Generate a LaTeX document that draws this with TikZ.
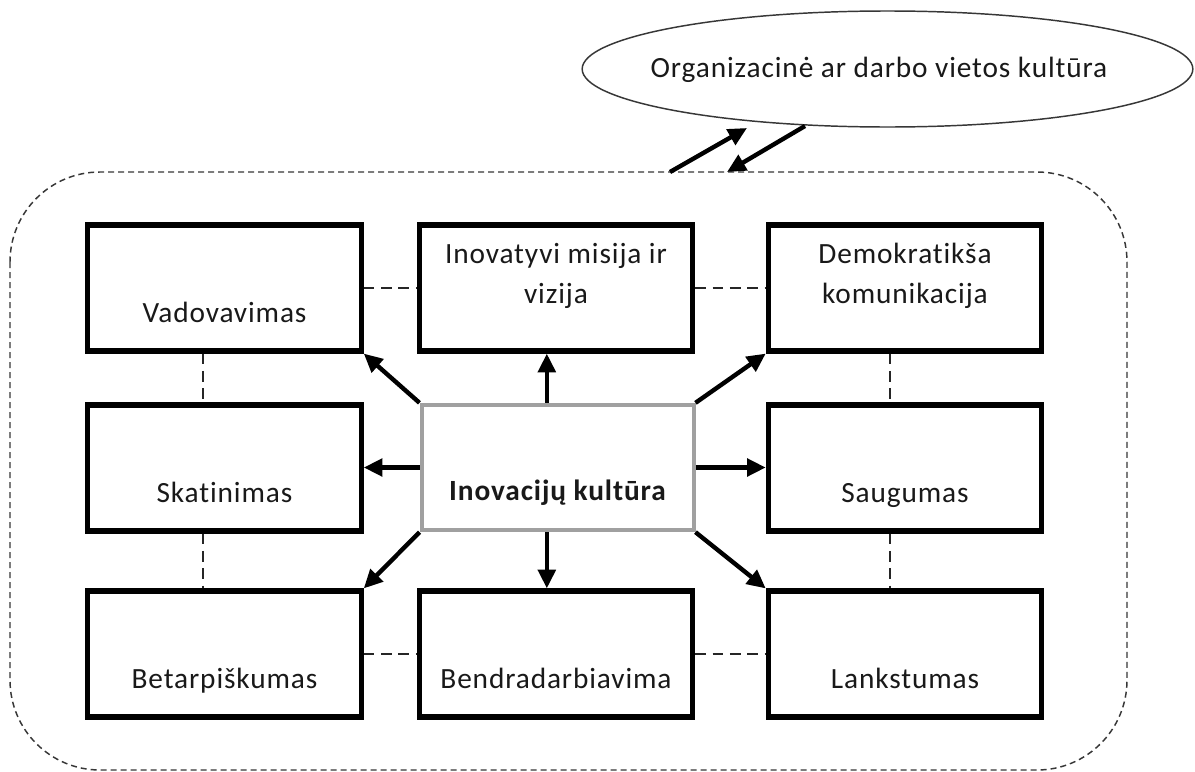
\documentclass[tikz,border=0pt]{standalone}
\usepackage{fontspec}
\setmainfont{Carlito}[Ligatures={NoCommon},LetterSpace=3]
\usetikzlibrary{arrows.meta,shapes.geometric}
\definecolor{cgray}{RGB}{160,160,160}
\definecolor{dgray}{RGB}{55,55,55}
\definecolor{txt}{RGB}{25,25,25}
\begin{document}
\begin{tikzpicture}[x=0.75pt,y=-0.75pt,
  box/.style={draw=black,line width=3.9pt,minimum width=205pt,minimum height=94.5pt,inner sep=0pt},
  cbox/.style={draw=cgray,line width=3pt,minimum width=204pt,minimum height=94pt,inner sep=0pt},
  lbl/.style={anchor=base,inner sep=0pt,text=txt,font=\fontsize{22}{30}\selectfont},
  blbl/.style={lbl,font=\fontsize{22}{30}\selectfont\bfseries},
  arr/.style={line width=3.3pt,-{Triangle[length=14pt,width=13pt]}},
  conn/.style={draw=black!85,line width=1.3pt,dash pattern=on 8pt off 5pt},
  outer/.style={draw=dgray,line width=1.1pt,dash pattern=on 4.5pt off 3pt},
  ell/.style={draw=dgray,line width=1.1pt,ellipse,minimum width=458pt,minimum height=87pt,inner sep=0pt}]
\useasboundingbox[fill=white] (0,0) rectangle (1195,771);

% outer dashed frame
\draw[outer,rounded corners=67.5pt] (10,172) rectangle (1127,770);

% ellipse
\node[ell] (org) at (887.5,69) {};
\node[lbl] (orgt) at (879,77) {Organizacinė ar darbo vietos kultūra};

% boxes
\node[box] (vad) at (224.5,288) {};
\node[box] (mis) at (556,288) {};
\node[box] (dem) at (905,288) {};
\node[box] (ska) at (224.5,468) {};
\node[cbox] (c) at (557.5,467.5) {};
\node[box] (sau) at (905,468) {};
\node[box] (bet) at (224.5,654) {};
\node[box] (ben) at (556,654) {};
\node[box] (lan) at (905,654) {};

% labels
\node[lbl] (tvad) at (224.5,322) {Vadovavimas};
\node[lbl] (tmis1) at (556,263) {Inovatyvi misija ir};
\node[lbl] (tmis2) at (556,303) {vizija};
\node[lbl] (tdem1) at (905,263) {Demokratikša};
\node[lbl] (tdem2) at (905,303) {komunikacija};
\node[lbl] (tska) at (224.5,502) {Skatinimas};
\node[blbl] (tc) at (557.5,500) {Inovacijų kultūra};
\node[lbl] (tsau) at (905,502) {Saugumas};
\node[lbl] (tbet) at (224.5,688) {Betarpiškumas};
\node[lbl] (tben) at (556,688) {Bendradarbiavima};
\node[lbl] (tlan) at (905,688) {Lankstumas};

% dashed links
\draw[conn] (vad.east) -- (mis.west);
\draw[conn] (mis.east) -- (dem.west);
\draw[conn] (bet.east) -- (ben.west);
\draw[conn] (ben.east) -- (lan.west);
\draw[conn] ([xshift=-16pt]vad.south) -- ([xshift=-16pt]ska.north);
\draw[conn] ([xshift=-16pt]ska.south) -- ([xshift=-16pt]bet.north);
\draw[conn] ([xshift=-11pt]dem.south) -- ([xshift=-11pt]sau.north);
\draw[conn] ([xshift=-11pt]sau.south) -- ([xshift=-11pt]lan.north);

% arrows from centre
\draw[arr] (c.north west) -- (vad.south east);
\draw[arr] ([xshift=-8pt]c.north) -- ([xshift=-8pt]c.north |- mis.south);
\draw[arr] (c.north east) -- (dem.south west);
\draw[arr] (c.west) -- (c.west -| ska.east);
\draw[arr] (c.east) -- (c.east -| sau.west);
\draw[arr] (c.south west) -- (bet.north east);
\draw[arr] ([xshift=-8pt]c.south) -- ([xshift=-8pt]c.south |- ben.north);
\draw[arr] (c.south east) -- (lan.north west);

% arrows between frame and ellipse
\coordinate (up1) at (670,172);
\coordinate (up2) at (747,128);
\coordinate (dn1) at (805,126);
\coordinate (dn2) at (727,172);
\draw[arr] (up1) -- (up2);
\draw[arr] (dn1) -- (dn2);
\end{tikzpicture}
\end{document}
